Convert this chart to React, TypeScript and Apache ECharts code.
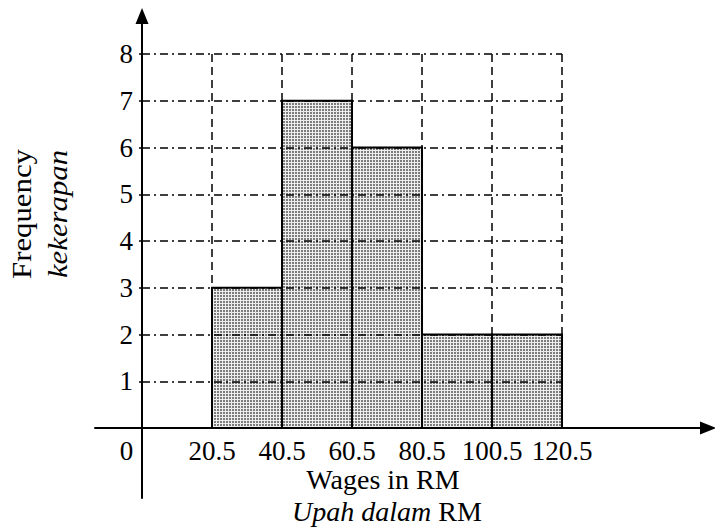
import React, { useEffect, useRef } from "react";
import * as echarts from "echarts";

// ---- data ----
const LOWER_BOUNDS = [20.5, 40.5, 60.5, 80.5, 100.5];
const UPPER_BOUNDS = [40.5, 60.5, 80.5, 100.5, 120.5];
const FREQUENCIES = [3, 7, 6, 2, 2];
const X_TICK_LABELS = ["0", "20.5", "40.5", "60.5", "80.5", "100.5", "120.5"];
const X_MIN = 0.5;
const X_MAX = 120.5;
const X_STEP = 20;
const Y_MAX = 8;
const X_TITLE = "Wages in RM";
const X_TITLE_MS = "Upah dalam";
const Y_TITLE = "Frequency";
const Y_TITLE_MS = "kekerapan";

const FONT = '"Liberation Serif", "Times New Roman", serif';

function makePattern() {
  const c = document.createElement("canvas");
  c.width = 3;
  c.height = 3;
  const ctx = c.getContext("2d")!;
  ctx.fillStyle = "#ededed";
  ctx.fillRect(0, 0, 3, 3);
  ctx.fillStyle = "#7c7c7c";
  ctx.fillRect(1, 1, 2, 2);
  return { image: c, repeat: "repeat", imageWidth: 3, imageHeight: 3 };
}

export default function App() {
  const ref = useRef<HTMLDivElement>(null);
  useEffect(() => {
    if (!ref.current) return;
    const chart = echarts.init(ref.current, null, { renderer: "svg" });
    const pattern = makePattern();
    const data = LOWER_BOUNDS.map((lo, i) => [lo, UPPER_BOUNDS[i], FREQUENCIES[i]]);
    const hidden = { show: false };
    const option: any = {
      animation: false,
      backgroundColor: "#ffffff",
      grid: [
        { left: 142, top: 54, width: 420, height: 374, outerBoundsMode: "none", containLabel: false },
        { left: 142, top: 16, bottom: 30, width: 100, outerBoundsMode: "none", containLabel: false },
        { left: 95, right: 7, bottom: 100, height: 100, outerBoundsMode: "none", containLabel: false },
      ],
      xAxis: [
        {
          gridIndex: 0,
          type: "value",
          min: X_MIN,
          max: X_MAX,
          interval: X_STEP,
          z: 5,
          axisLine: hidden,
          axisTick: hidden,
          axisLabel: {
            color: "#000",
            fontFamily: FONT,
            fontSize: 27,
            margin: 9,
            formatter: (v: number) => {
              const idx = Math.round((v - X_MIN) / X_STEP);
              const t = X_TICK_LABELS[idx] ?? "";
              return idx === 0 ? "{o|" + t + "}" : t;
            },
            rich: {
              o: { padding: [0, 31, 0, 0], fontSize: 27, fontFamily: FONT, color: "#000" },
            },
          },
          splitLine: {
            show: true,
            lineStyle: { color: "#000", width: 1.5, type: [8, 5] },
          },
        },
        { gridIndex: 1, type: "value", show: false },
        {
          gridIndex: 2,
          type: "value",
          z: 6,
          axisLine: {
            show: true,
            onZero: false,
            symbol: ["none", "triangle"],
            symbolSize: [13, 16],
            lineStyle: { color: "#000", width: 2 },
          },
          axisTick: hidden,
          axisLabel: hidden,
          splitLine: hidden,
        },
      ],
      yAxis: [
        {
          gridIndex: 0,
          type: "value",
          min: 0,
          max: Y_MAX,
          interval: 1,
          z: 5,
          axisLine: hidden,
          axisTick: { show: true, length: 3, lineStyle: { color: "#000", width: 1.5 } },
          axisLabel: {
            color: "#000",
            fontFamily: FONT,
            fontSize: 27,
            margin: 9,
            formatter: (v: number) => (v === 0 ? "" : String(v)),
          },
          splitLine: {
            show: true,
            lineStyle: { color: "#000", width: 1.5, type: [8, 4, 2, 4] },
          },
        },
        {
          gridIndex: 1,
          type: "value",
          z: 6,
          axisLine: {
            show: true,
            onZero: false,
            symbol: ["none", "triangle"],
            symbolSize: [13, 16],
            lineStyle: { color: "#000", width: 2 },
          },
          axisTick: hidden,
          axisLabel: hidden,
          splitLine: hidden,
        },
        { gridIndex: 2, type: "value", show: false },
      ],
      series: [
        {
          type: "custom",
          xAxisIndex: 0,
          yAxisIndex: 0,
          z: 2,
          encode: { x: [0, 1], y: 2 },
          data,
          renderItem: (params: any, api: any) => {
            const lo = api.value(0);
            const hi = api.value(1);
            const f = api.value(2);
            const p0 = api.coord([lo, f]);
            const p1 = api.coord([hi, 0]);
            return {
              type: "rect",
              shape: { x: p0[0], y: p0[1], width: p1[0] - p0[0], height: p1[1] - p0[1] },
              style: { fill: pattern, stroke: "#000", lineWidth: 2 },
            };
          },
        },
      ],
      graphic: [
        {
          type: "text",
          x: 21,
          y: 214,
          rotation: Math.PI / 2,
          scaleX: 1.1,
          style: {
            text: Y_TITLE,
            fontFamily: FONT,
            fontSize: 28,
            fill: "#000",
            align: "center",
            verticalAlign: "middle",
          },
        },
        {
          type: "text",
          x: 57,
          y: 214,
          rotation: Math.PI / 2,
          scaleX: 1.1,
          style: {
            text: Y_TITLE_MS,
            fontFamily: FONT,
            fontSize: 28,
            fontStyle: "italic",
            fill: "#000",
            align: "center",
            verticalAlign: "middle",
          },
        },
        {
          type: "text",
          x: 383,
          y: 479,
          style: {
            text: X_TITLE,
            fontFamily: FONT,
            fontSize: 28,
            fill: "#000",
            align: "center",
            verticalAlign: "middle",
          },
        },
        {
          type: "text",
          x: 387,
          y: 511,
          style: {
            text: "{i|" + X_TITLE_MS + "} RM",
            fontFamily: FONT,
            fontSize: 28,
            fill: "#000",
            align: "center",
            verticalAlign: "middle",
            rich: {
              i: { fontStyle: "italic", fontFamily: FONT, fontSize: 28, fill: "#000" },
            },
          },
        },
      ],
    };
    chart.setOption(option);
    return () => chart.dispose();
  }, []);
  return (
    <div
      ref={ref}
      style={{ position: "fixed", left: 0, top: 0, width: 715, height: 528 }}
    />
  );
}
